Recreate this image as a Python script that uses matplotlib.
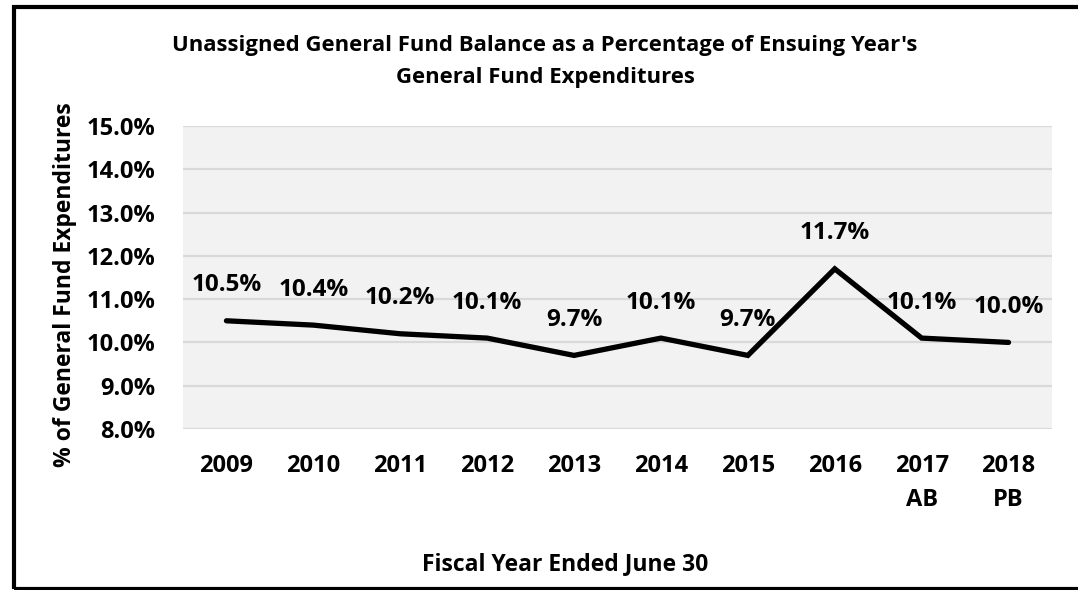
import matplotlib
matplotlib.use('Agg')
import matplotlib.pyplot as plt
from matplotlib.patches import Rectangle
from matplotlib.ticker import FuncFormatter

# fiscal years and unassigned balance as % of next year's expenditures
years = ['2009', '2010', '2011', '2012', '2013', '2014', '2015', '2016', '2017\nAB', '2018\nPB']
balance_pct = [10.5, 10.4, 10.2, 10.1, 9.7, 10.1, 9.7, 11.7, 10.1, 10.0]
y_ticks = [8, 9, 10, 11, 12, 13, 14, 15]

plt.rcParams['font.family'] = ['Open Sans', 'DejaVu Sans']
plt.rcParams['font.weight'] = 'bold'

fig = plt.figure(figsize=(10.78, 5.90), dpi=100)
ax = fig.add_axes([183 / 1078, 1 - 429 / 590, (1052 - 183) / 1078, (429 - 126) / 590])
ax.set_facecolor('#f2f2f2')

x = list(range(len(years)))
ax.plot(x, balance_pct, color='black', lw=3.8, solid_joinstyle='miter', solid_capstyle='round', zorder=3)
for xi, v in zip(x, balance_pct):
    ax.annotate('{:.1f}%'.format(v), (xi, v), xytext=(0, 25.5), textcoords='offset points',
                ha='center', va='center', fontsize=17.5, fontweight='bold', zorder=4)

ax.set_xlim(-0.5, len(years) - 0.5)
ax.set_ylim(8, 15)
ax.set_yticks(y_ticks)
ax.yaxis.set_major_formatter(FuncFormatter(lambda v, pos: '{:.1f}%'.format(v)))
ax.set_xticks(x)
ax.set_xticklabels(years, linespacing=1.55)
ax.grid(axis='y', color='#d9d9d9', lw=1.6, zorder=1)
ax.set_axisbelow(True)
for s in ax.spines.values():
    s.set_visible(False)
ax.tick_params(length=0, labelsize=17)
ax.tick_params(axis='y', pad=20)
ax.tick_params(axis='x', pad=18)

fig.text(545 / 1078, 1 - 45 / 590, "Unassigned General Fund Balance as a Percentage of Ensuing Year's",
         ha='center', va='center', fontsize=15.9, fontweight='bold')
fig.text(545 / 1078, 1 - 77 / 590, 'General Fund Expenditures',
         ha='center', va='center', fontsize=15.9, fontweight='bold')
fig.text(65 / 1078, 1 - 285 / 590, '% of General Fund Expenditures', rotation=90,
         ha='center', va='center', fontsize=16.5, fontweight='bold')
fig.text(565 / 1078, 1 - 564 / 590, 'Fiscal Year Ended June 30',
         ha='center', va='center', fontsize=16.5, fontweight='bold')

# outer frame (runs off the right edge)
fig.patches.append(Rectangle((13.5 / 1078, 1 - 588.5 / 590), 1.2, (588.5 - 7) / 590,
                             transform=fig.transFigure, fill=False, edgecolor='black', lw=3))

fig.savefig('out.png', dpi=100)
